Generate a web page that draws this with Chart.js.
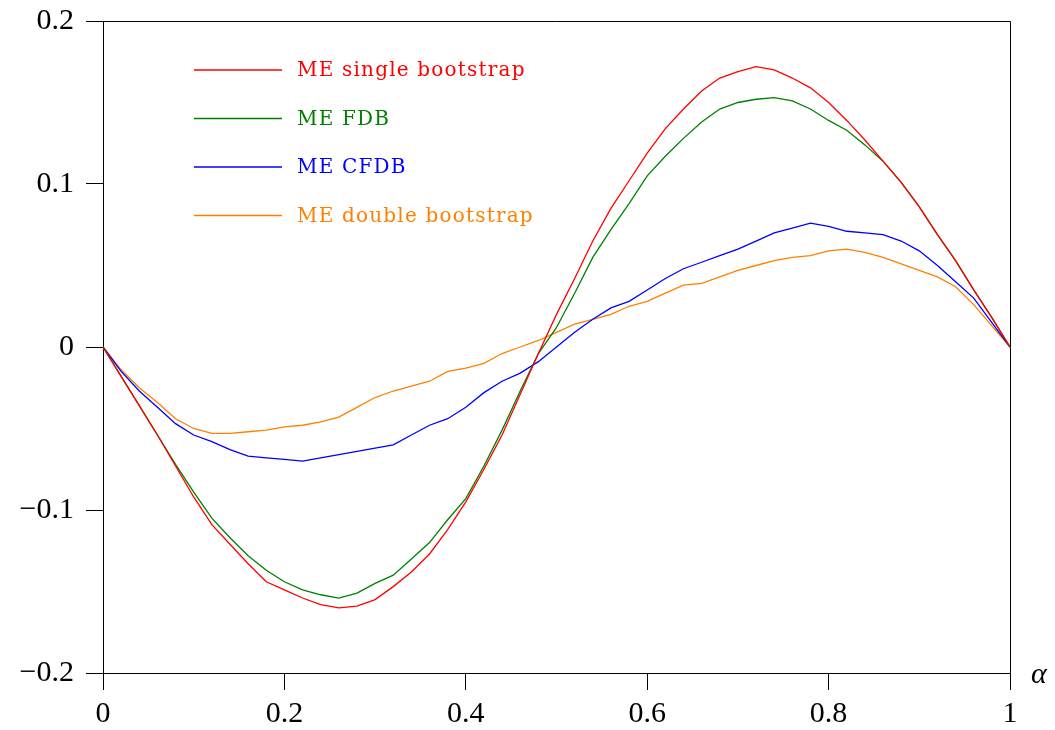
<!DOCTYPE html>
<html>
<head>
    <title>ME comparison</title>
    <script src="https://cdn.jsdelivr.net/npm/chart.js"></script>
    <style>
        body { margin: 0; background: #fff; }
    </style>
</head>
<body>
<canvas id="meChart" width="1055" height="730"></canvas>
<script>
    // alpha grid (x values)
    var alpha = [0, 0.02, 0.04, 0.06, 0.08, 0.10, 0.12, 0.14, 0.16, 0.18,
        0.20, 0.22, 0.24, 0.26, 0.28, 0.30, 0.32, 0.34, 0.36, 0.38,
        0.40, 0.42, 0.44, 0.46, 0.48, 0.50, 0.52, 0.54, 0.56, 0.58,
        0.60, 0.62, 0.64, 0.66, 0.68, 0.70, 0.72, 0.74, 0.76, 0.78,
        0.80, 0.82, 0.84, 0.86, 0.88, 0.90, 0.92, 0.94, 0.96, 0.98, 1.00];

    var singleBootstrap = [0, -0.018, -0.036, -0.054, -0.073, -0.092, -0.109, -0.121, -0.133, -0.144,
        -0.149, -0.154, -0.158, -0.160, -0.159, -0.155, -0.147, -0.138, -0.127, -0.112,
        -0.095, -0.075, -0.054, -0.029, -0.004, 0.020, 0.042, 0.065, 0.085, 0.102,
        0.119, 0.134, 0.146, 0.157, 0.165, 0.169, 0.172, 0.170, 0.165, 0.159,
        0.150, 0.139, 0.127, 0.114, 0.101, 0.086, 0.069, 0.053, 0.035, 0.018, 0];

    var fdb = [0, -0.018, -0.036, -0.054, -0.072, -0.089, -0.105, -0.117, -0.128, -0.137,
        -0.144, -0.149, -0.152, -0.154, -0.151, -0.145, -0.140, -0.130, -0.120, -0.106,
        -0.093, -0.073, -0.051, -0.027, -0.004, 0.012, 0.033, 0.055, 0.072, 0.088,
        0.105, 0.117, 0.128, 0.138, 0.146, 0.150, 0.152, 0.153, 0.151, 0.146,
        0.139, 0.133, 0.124, 0.114, 0.101, 0.086, 0.069, 0.053, 0.035, 0.018, 0];

    var cfdb = [0, -0.015, -0.027, -0.037, -0.047, -0.054, -0.058, -0.063, -0.067, -0.068,
        -0.069, -0.070, -0.068, -0.066, -0.064, -0.062, -0.060, -0.054, -0.048, -0.044,
        -0.037, -0.028, -0.021, -0.016, -0.009, 0.000, 0.009, 0.017, 0.024, 0.028,
        0.035, 0.042, 0.048, 0.052, 0.056, 0.060, 0.065, 0.070, 0.073, 0.076,
        0.074, 0.071, 0.070, 0.069, 0.065, 0.059, 0.050, 0.040, 0.030, 0.015, 0];

    var doubleBootstrap = [0, -0.014, -0.025, -0.034, -0.044, -0.050, -0.053, -0.053, -0.052, -0.051,
        -0.049, -0.048, -0.046, -0.043, -0.037, -0.031, -0.027, -0.024, -0.021, -0.015,
        -0.013, -0.010, -0.004, 0.000, 0.004, 0.009, 0.014, 0.017, 0.020, 0.025,
        0.028, 0.033, 0.038, 0.039, 0.043, 0.047, 0.050, 0.053, 0.055, 0.056,
        0.059, 0.060, 0.058, 0.055, 0.051, 0.047, 0.043, 0.037, 0.026, 0.013, 0];

    var seriesNames = ['ME single bootstrap', 'ME FDB', 'ME CFDB', 'ME double bootstrap'];
    var seriesColors = ['#ff0000', '#008000', '#0000ff', '#ff8000'];
    var seriesValues = [singleBootstrap, fdb, cfdb, doubleBootstrap];

    var xTicks = [0, 0.2, 0.4, 0.6, 0.8, 1];
    var xTickLabels = ['0', '0.2', '0.4', '0.6', '0.8', '1'];
    var yTicks = [-0.2, -0.1, 0, 0.1, 0.2];
    var yTickLabels = ['\u22120.2', '\u22120.1', '0', '0.1', '0.2'];

    var serif = '"Liberation Serif", "DejaVu Serif", serif';

    var datasets = seriesValues.map(function (vals, i) {
        return {
            label: seriesNames[i],
            data: alpha.map(function (a, j) { return { x: a, y: vals[j] }; }),
            borderColor: seriesColors[i],
            backgroundColor: seriesColors[i],
            borderWidth: 1.3,
            pointRadius: 0,
            tension: 0,
            fill: false
        };
    });

    // box, in-plot legend and alpha label
    var decorations = {
        id: 'decorations',
        afterDraw: function (chart) {
            var ctx = chart.ctx;
            var area = chart.chartArea;
            ctx.save();
            ctx.strokeStyle = '#000';
            ctx.lineWidth = 1;
            ctx.beginPath();
            ctx.moveTo(area.left, area.top + 0.5);
            ctx.lineTo(area.right + 0.5, area.top + 0.5);
            ctx.lineTo(area.right + 0.5, area.bottom);
            ctx.stroke();

            ctx.font = '20px "DejaVu Serif", serif';
            ctx.letterSpacing = '1.2px';
            ctx.textBaseline = 'middle';
            ctx.textAlign = 'left';
            for (var i = 0; i < seriesNames.length; i++) {
                var y = 70 + i * 48.5;
                ctx.strokeStyle = seriesColors[i];
                ctx.lineWidth = 1.3;
                ctx.beginPath();
                ctx.moveTo(194, y);
                ctx.lineTo(282, y);
                ctx.stroke();
                ctx.fillStyle = seriesColors[i];
                ctx.fillText(seriesNames[i], 297, y + 1);
            }
            ctx.letterSpacing = '0px';

            ctx.fillStyle = '#000';
            ctx.font = 'italic 30px ' + serif;
            ctx.fillText('\u03b1', 1031, 675);
            ctx.restore();
        }
    };

    var ctx = document.getElementById('meChart').getContext('2d');
    var chart = new Chart(ctx, {
        type: 'line',
        data: { datasets: datasets },
        plugins: [decorations],
        options: {
            responsive: false,
            animation: false,
            layout: { padding: { left: 0, right: 45, top: 21, bottom: 0 } },
            plugins: {
                legend: { display: false },
                tooltip: { enabled: false }
            },
            scales: {
                x: {
                    type: 'linear',
                    min: 0,
                    max: 1,
                    afterBuildTicks: function (scale) {
                        scale.ticks = xTicks.map(function (v) { return { value: v }; });
                    },
                    afterFit: function (scale) {
                        scale.height = 57;
                        scale.paddingLeft = 0;
                        scale.paddingRight = 0;
                    },
                    grid: { drawOnChartArea: false, drawTicks: true, tickLength: 17, color: '#000', lineWidth: 1 },
                    border: { display: true, color: '#000', width: 1 },
                    ticks: {
                        color: '#000',
                        padding: 6,
                        maxRotation: 0,
                        font: { family: serif, size: 30 },
                        callback: function (value, index) { return xTickLabels[index]; }
                    }
                },
                y: {
                    type: 'linear',
                    min: -0.2,
                    max: 0.2,
                    afterBuildTicks: function (scale) {
                        scale.ticks = yTicks.map(function (v) { return { value: v }; });
                    },
                    afterFit: function (scale) {
                        scale.width = 103;
                        scale.paddingTop = 0;
                        scale.paddingBottom = 0;
                    },
                    grid: { drawOnChartArea: false, drawTicks: true, tickLength: 17, color: '#000', lineWidth: 1 },
                    border: { display: true, color: '#000', width: 1 },
                    ticks: {
                        color: '#000',
                        padding: 12,
                        font: { family: serif, size: 30 },
                        callback: function (value, index) { return yTickLabels[index]; }
                    }
                }
            }
        }
    });
</script>
</body>
</html>
